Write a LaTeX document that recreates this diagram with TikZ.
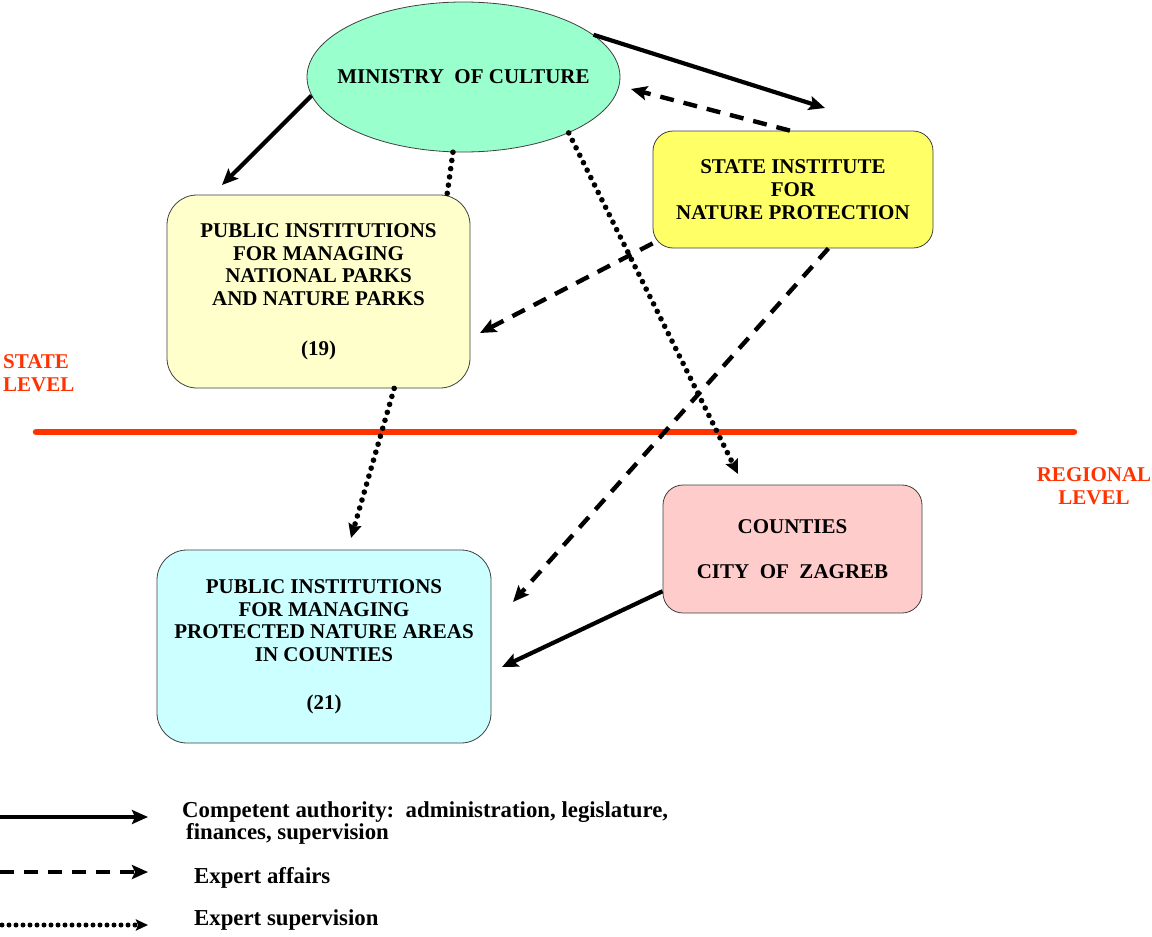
\documentclass[tikz,border=0pt]{standalone}
\usepackage{fontspec}
\setmainfont{Liberation Serif}
\usetikzlibrary{shapes.geometric,arrows.meta}
\definecolor{mint}{HTML}{99FFCC}
\definecolor{stateyel}{HTML}{FFFF66}
\definecolor{parkyel}{HTML}{FFFFCC}
\definecolor{protcyan}{HTML}{CCFFFF}
\definecolor{cntpink}{HTML}{FFCCCC}
\definecolor{lvlred}{HTML}{FF3300}
\newcommand\bxf{\fontsize{21}{22.7}\selectfont\bfseries}
\newcommand\lgf{\fontsize{22.8}{22}\selectfont\bfseries}
\tikzset{
  rbox/.style={draw=black!75, line width=0.8pt, align=center, font=\bxf, inner sep=0pt},
  solidarr/.style={line width=4.2pt, -{Stealth[length=16pt,width=14pt,inset=3pt]}},
  dasharr/.style={line width=4.4pt, dash pattern=on 14pt off 10pt, -{Stealth[length=16pt,width=14pt,inset=3pt]}},
  dotline/.style={line width=5.6pt, line cap=round, dash pattern=on 0pt off 8.3pt},
  dotarr/.style={dotline, -{Stealth[length=14pt,width=13pt,inset=2pt]}},
  lvltxt/.style={text=lvlred, font=\bxf, inner sep=0pt}
}
\begin{document}
\begin{tikzpicture}[x=1pt,y=-1pt]
\useasboundingbox[fill=white] (0,0) rectangle (1152,937);

% level line and labels
\coordinate (rl1) at (36,432);
\coordinate (rl2) at (1074,432);
\draw[lvlred, line width=6.5pt, line cap=round] (rl1) -- (rl2);
\node[lvltxt, anchor=west, align=left] (stl) at (3,373.5) {STATE\\LEVEL};
\node[lvltxt, align=center] (rgl) at (1094,486.5) {REGIONAL\\LEVEL};

% nodes
\node[ellipse, draw=black!75, line width=0.8pt, fill=mint, minimum width=313, minimum height=150, font=\bxf, inner sep=0pt] (min) at (463.5,77) {\raisebox{-1.5pt}{\makebox[0pt]{MINISTRY\ \ OF CULTURE}}};
\node[rbox, fill=stateyel, minimum width=280, minimum height=117, rounded corners=20] (sinp) at (793,189.5) {STATE INSTITUTE\\FOR\\NATURE PROTECTION};
\node[rbox, fill=parkyel, minimum width=303, minimum height=193, rounded corners=30] (parks) at (318.5,291.5) {PUBLIC INSTITUTIONS\\FOR MANAGING\\NATIONAL PARKS\\AND NATURE PARKS\\[27pt](19)};
\node[rbox, fill=protcyan, minimum width=334, minimum height=193, rounded corners=30] (prot) at (324,646.5) {PUBLIC INSTITUTIONS\\FOR MANAGING\\PROTECTED NATURE AREAS\\IN COUNTIES\\[25pt](21)};
\node[rbox, fill=cntpink, minimum width=259, minimum height=128, rounded corners=20] (cty) at (792.5,549) {COUNTIES\\[23pt]CITY\ \ OF\ \ ZAGREB};

% free ends of connectors
\coordinate (t1) at (222,185);
\coordinate (t2) at (825,108);
\coordinate (t3) at (631,89);
\coordinate (t4) at (480,333);
\coordinate (t5) at (513,602);
\coordinate (t7) at (738,474);
\coordinate (t8) at (351,538);
\coordinate (t9) at (502,667);

% connectors
\draw[solidarr] (min.187.5) -- (t1);
\draw[solidarr] (min.18) -- (t2);
\draw[dasharr] (sinp.93) -- (t3);
\draw[dasharr] (sinp.201) -- (t4);
\draw[dasharr] (sinp.-59) -- (t5);
\draw[dotline] (min.-98) -- (parks.37.3);
\draw[dotarr] (min.-28) -- (t7);
\draw[dotarr] (parks.-52.7) -- (t8);
\draw[solidarr] (cty.198.4) -- (t9);

% legend
\coordinate (l1s) at (0,817);
\coordinate (l1e) at (148,817);
\coordinate (l2s) at (0,872);
\coordinate (l2e) at (148,872);
\coordinate (l3s) at (2,925);
\coordinate (l3e) at (148,925);
\draw[solidarr] (l1s) -- (l1e);
\draw[dasharr] (l2s) -- (l2e);
\draw[line width=5pt, line cap=round, dash pattern=on 0pt off 7pt, -{Stealth[length=12pt,width=11pt,inset=2pt]}] (l3s) -- (l3e);
\node[anchor=west, align=left, font=\lgf, inner sep=0pt] (lg1) at (182,823) {Competent authority:\ \ administration, legislature,\\\hspace{4pt}finances, supervision};
\node[anchor=west, font=\lgf, inner sep=0pt] (lg2) at (194,878) {Expert affairs};
\node[anchor=west, font=\lgf, inner sep=0pt] (lg3) at (194,920) {Expert supervision};
\end{tikzpicture}
\end{document}
